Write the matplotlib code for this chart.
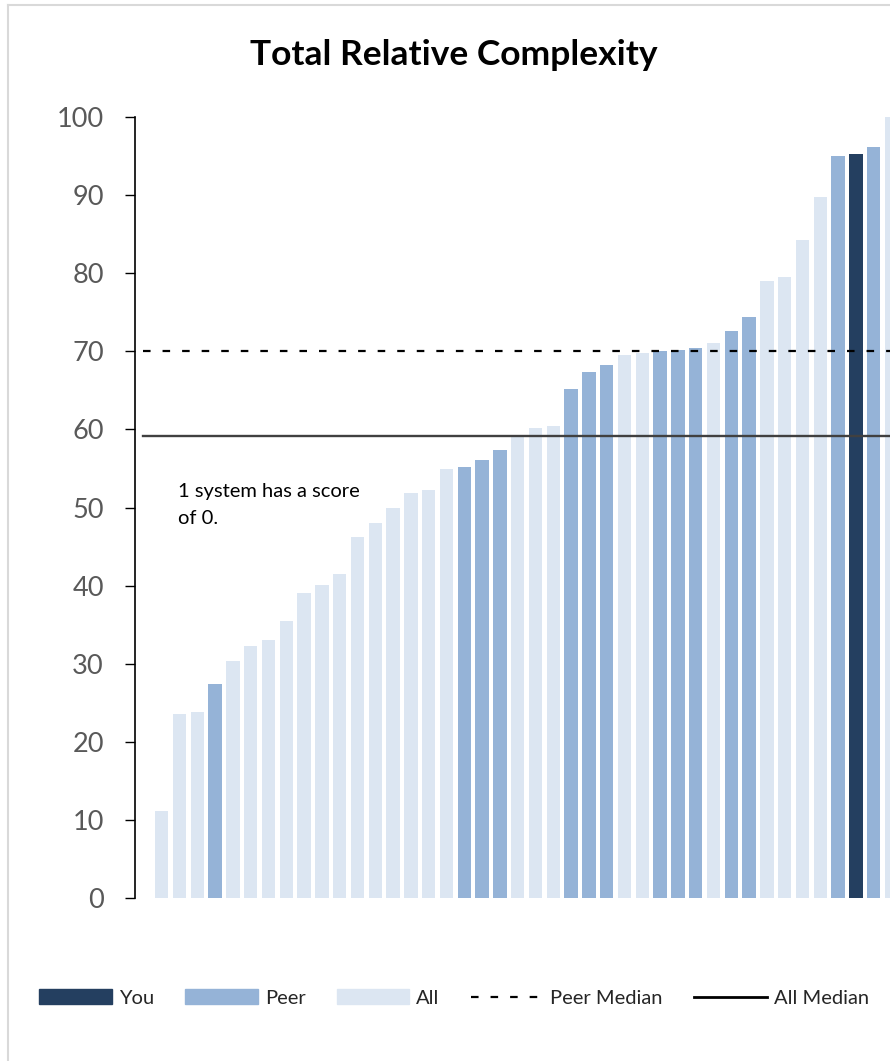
import matplotlib
matplotlib.use('Agg')
import matplotlib.pyplot as plt
from matplotlib.patches import Patch
from matplotlib.lines import Line2D

plt.rcParams['font.family'] = ['Lato', 'DejaVu Sans']

# ---- data ----
scores = [11.2, 23.5, 23.8, 27.4, 30.3, 32.3, 33.0, 35.5, 39.1, 40.1,
          41.5, 46.2, 48.0, 49.9, 51.9, 52.2, 54.9, 55.2, 56.1, 57.3,
          59.0, 60.2, 60.4, 65.2, 67.4, 68.2, 69.5, 69.8, 70.1, 70.2,
          70.4, 71.1, 72.6, 74.4, 79.0, 79.5, 84.3, 89.7, 95.0, 95.3,
          96.2, 100.0]
groups = ['All', 'All', 'All', 'Peer', 'All', 'All', 'All', 'All', 'All', 'All',
          'All', 'All', 'All', 'All', 'All', 'All', 'All', 'Peer', 'Peer', 'Peer',
          'All', 'All', 'All', 'Peer', 'Peer', 'Peer', 'All', 'All', 'Peer', 'Peer',
          'Peer', 'All', 'Peer', 'Peer', 'All', 'All', 'All', 'All', 'Peer', 'You',
          'Peer', 'All']
peer_median = 70.0
all_median = 59.2
yticks = [0, 10, 20, 30, 40, 50, 60, 70, 80, 90, 100]

colors = {'You': '#243f60', 'Peer': '#95b3d7', 'All': '#dce6f2'}

fig = plt.figure(figsize=(8.9, 10.61), dpi=100)
# axes runs past the right edge, the original picture is cropped there
ax = fig.add_axes([135/890, 163/1061, 1.0, 781/1061])

x = list(range(len(scores)))
ax.bar(x, scores, width=0.75, color=[colors[g] for g in groups], zorder=2)

ax.plot([-1.05, 60], [peer_median, peer_median], color='black', lw=1.6,
        dashes=[3.4, 5.4], zorder=3)
ax.plot([-1.05, 60], [all_median, all_median], color='#404040', lw=1.7, zorder=3)

ax.set_xlim(-1.5, 48.5)
ax.set_ylim(0, 100)
ax.set_yticks(yticks)
ax.set_xticks([])
for s in ['top', 'right', 'bottom']:
    ax.spines[s].set_visible(False)
ax.spines['left'].set_linewidth(1.2)
ax.tick_params(axis='y', direction='out', length=7.5, width=1, pad=15,
               labelsize=19.5, labelcolor='#595959')
ax.yaxis.get_major_ticks()[0].tick1line.set_color('#d0d0d0')

ax.text(0.9, 53.2, '1 system has a score\nof 0.', fontsize=14.5, color='black',
        va='top', ha='left', linespacing=1.75)

fig.text(454/890, 1 - 55/1061, 'Total Relative Complexity', ha='center', va='center',
         fontsize=25.5, fontweight='bold', color='black')

# legend
handles = [Patch(color=colors['You']), Patch(color=colors['Peer']), Patch(color=colors['All']),
           Line2D([], [], color='black', lw=1.6, dashes=[3.4, 5.4]),
           Line2D([], [], color='black', lw=2)]
labels = ['You', 'Peer', 'All', 'Peer Median', 'All Median']
fig.legend(handles, labels, loc='center', bbox_to_anchor=(454/890, 1 - 998/1061), ncol=5,
           frameon=False, fontsize=14.5, handlelength=3.6, handletextpad=0.35,
           columnspacing=1.55, labelcolor='#262626')

# outer chart frame (left and top edges visible)
fig.add_artist(Line2D([7.5/890, 7.5/890], [0, 1 - 5/1061], color='#d9d9d9', lw=1.5,
                      transform=fig.transFigure))
fig.add_artist(Line2D([7.5/890, 1], [1 - 5/1061, 1 - 5/1061], color='#d9d9d9', lw=1.5,
                      transform=fig.transFigure))

fig.savefig('out.png', dpi=100)
